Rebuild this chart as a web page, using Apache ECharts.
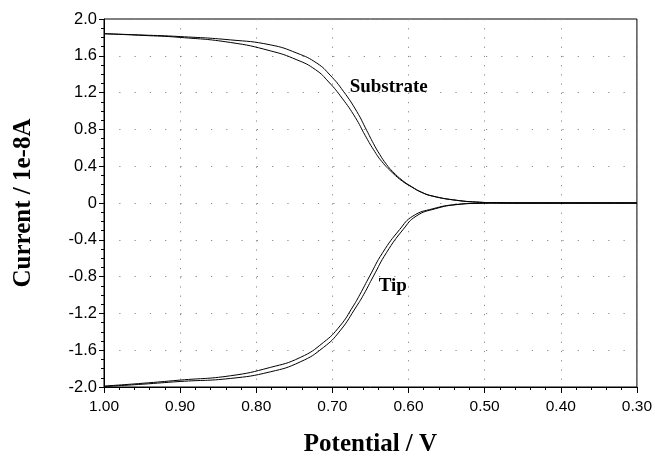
<!DOCTYPE html>
<html>
<head>
<meta charset="utf-8">
<script src="https://cdn.jsdelivr.net/npm/echarts@6/dist/echarts.min.js"></script>
<style>html,body{margin:0;padding:0;background:#fff}#c{width:655px;height:462px}</style>
</head>
<body>
<div id="c"></div>
<script>
// Potential (V) / current (1e-8 A) pairs
var substrateOuter = [[1.00,1.84],[0.95,1.826],[0.90,1.809],[0.834,1.773],[0.7815,1.719],[0.7466,1.629],[0.7204,1.52],[0.703,1.39],[0.6856,1.215],[0.668,0.995],[0.655,0.79],[0.646,0.645],[0.638,0.53],[0.629,0.42],[0.6206,0.34],[0.608,0.245],[0.596,0.178],[0.583,0.118],[0.568,0.075],[0.537,0.030],[0.507,0.009],[0.48,0.002],[0.45,0.0],[0.30,0.0]];
var substrateInner = [[1.00,1.84],[0.95,1.822],[0.90,1.80],[0.834,1.745],[0.7815,1.654],[0.7466,1.556],[0.722,1.448],[0.7048,1.315],[0.6873,1.14],[0.6699,0.93],[0.657,0.735],[0.646,0.58],[0.635,0.45],[0.6206,0.325],[0.608,0.237],[0.596,0.175],[0.583,0.116],[0.568,0.074],[0.537,0.029],[0.507,0.008],[0.48,0.002],[0.45,0.0],[0.30,0.0]];
var tipUpper = [[1.00,-1.99],[0.95,-1.96],[0.90,-1.925],[0.834,-1.878],[0.7815,-1.787],[0.7422,-1.679],[0.7118,-1.516],[0.690,-1.336],[0.6725,-1.119],[0.6637,-0.992],[0.651,-0.794],[0.634,-0.54],[0.6115,-0.287],[0.5944,-0.143],[0.5682,-0.063],[0.5372,-0.016],[0.507,-0.003],[0.48,0.0],[0.30,0.0]];
var tipLower = [[1.00,-1.995],[0.95,-1.97],[0.90,-1.94],[0.834,-1.907],[0.7815,-1.835],[0.7422,-1.727],[0.7118,-1.57],[0.690,-1.39],[0.668,-1.119],[0.6587,-0.992],[0.646,-0.794],[0.629,-0.54],[0.607,-0.287],[0.590,-0.143],[0.565,-0.063],[0.535,-0.016],[0.505,-0.003],[0.48,0.0],[0.30,0.0]];
var curveNames = ['Substrate', 'Substrate', 'Tip', 'Tip'];
var labelTexts = ['Substrate', 'Tip'];
var xTitle = 'Potential / V';
var yTitle = 'Current / 1e-8A';

var chart = echarts.init(document.getElementById('c'), null, {renderer: 'canvas'});
var lineBase = {type: 'line', showSymbol: false, symbol: 'none', smooth: 0.5,
  lineStyle: {color: '#000', width: 1}, animation: false, silent: true};
function mk(name, data) { return Object.assign({}, lineBase, {name: name, data: data}); }

chart.setOption({
  animation: false,
  backgroundColor: '#fff',
  grid: {left: 104, right: 17, top: 19, bottom: 74, show: true, borderColor: '#000', borderWidth: 1, backgroundColor: 'transparent'},
  xAxis: {
    type: 'value', min: 0.3, max: 1.0, interval: 0.1, inverse: true,
    name: xTitle, nameLocation: 'middle', nameGap: 45,
    nameTextStyle: {fontFamily: 'Liberation Serif', fontWeight: 'bold', fontSize: 25, color: '#000'},
    axisLine: {show: true, onZero: false, lineStyle: {color: '#000', width: 1}},
    axisTick: {show: true, inside: false, length: 6, lineStyle: {color: '#000'}},
    minorTick: {show: true, splitNumber: 5, length: 3, lineStyle: {color: '#000'}},
    axisLabel: {color: '#000', fontFamily: 'Liberation Sans', fontSize: 15.5, margin: 12,
      formatter: function (v) { return v.toFixed(2); }},
    splitLine: {show: true, lineStyle: {color: '#8a8a8a', width: 1, type: [1.2, 8.02]}}
  },
  yAxis: {
    type: 'value', min: -2.0, max: 2.0, interval: 0.4,
    name: yTitle, nameLocation: 'middle', nameGap: 68, nameRotate: 90,
    nameTextStyle: {fontFamily: 'Liberation Serif', fontWeight: 'bold', fontSize: 25, color: '#000'},
    axisLine: {show: true, onZero: false, lineStyle: {color: '#000', width: 1}},
    axisTick: {show: true, inside: false, length: 5, lineStyle: {color: '#000'}},
    minorTick: {show: true, splitNumber: 4, length: 3, lineStyle: {color: '#000'}},
    axisLabel: {color: '#000', fontFamily: 'Liberation Sans', fontSize: 16.5, margin: 7,
      formatter: function (v) { return Math.abs(v) < 1e-9 ? '0' : v.toFixed(1); }},
    splitLine: {show: true, lineStyle: {color: '#8a8a8a', width: 1, type: [1.2, 14.08]}}
  },
  series: [
    mk(curveNames[0], substrateOuter),
    mk(curveNames[1], substrateInner),
    mk(curveNames[2], tipUpper),
    mk(curveNames[3], tipLower)
  ]
});

var p1 = chart.convertToPixel({gridIndex: 0}, [0.626, 1.264]);
var p2 = chart.convertToPixel({gridIndex: 0}, [0.6206, -0.906]);
chart.setOption({
  graphic: [
    {type: 'text', x: p1[0], y: p1[1], style: {text: labelTexts[0], fill: '#000', font: 'bold 19px "Liberation Serif"', align: 'center', verticalAlign: 'middle'}},
    {type: 'text', x: p2[0], y: p2[1], style: {text: labelTexts[1], fill: '#000', font: 'bold 19px "Liberation Serif"', align: 'center', verticalAlign: 'middle'}}
  ]
});
</script>
</body>
</html>
